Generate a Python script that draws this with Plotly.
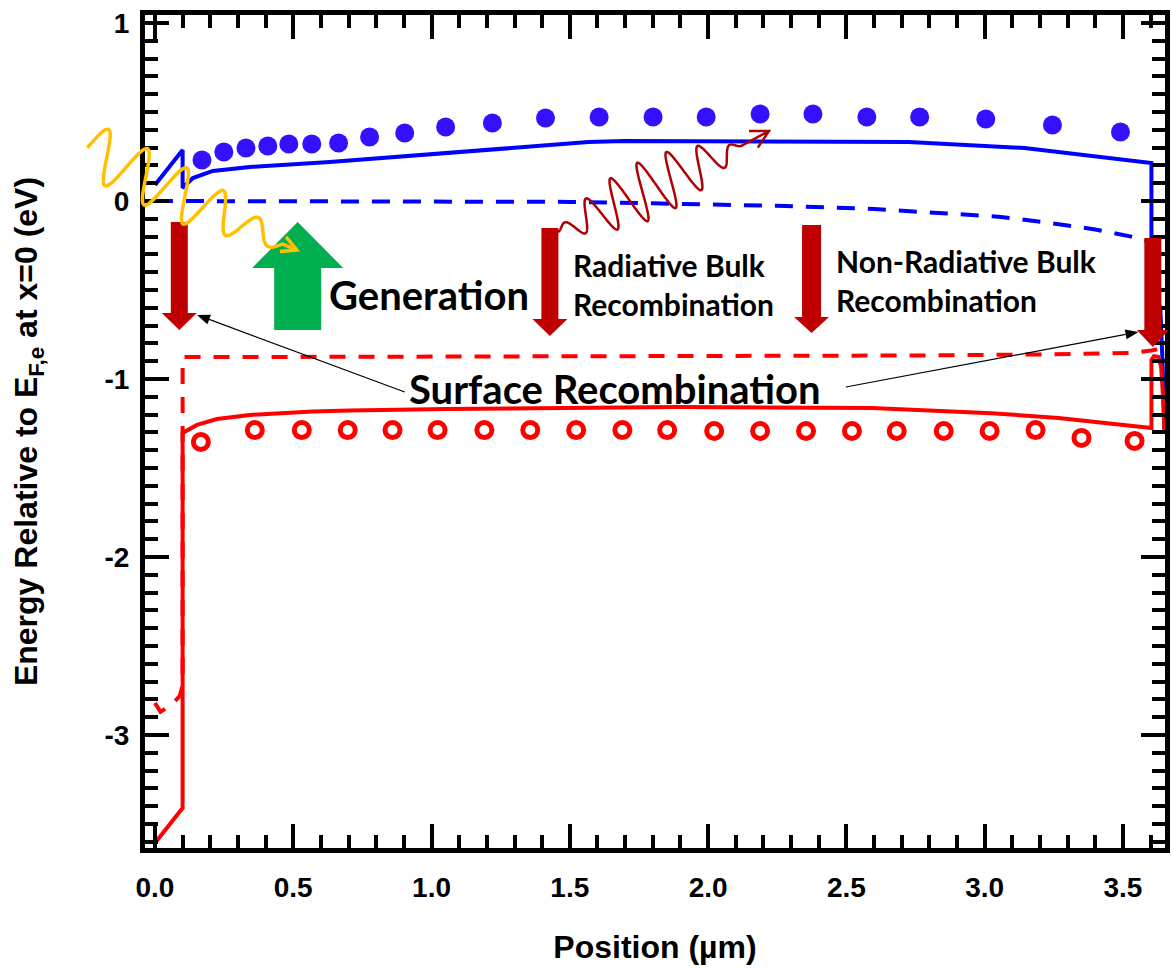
import numpy as np
import plotly.graph_objects as go

# ---------------- band diagram data ----------------
# position in µm, energy in eV relative to E_F,e at x=0

# conduction band edge E_c (solid blue)
ec_pos = [0.0, 0.1, 0.1, 0.137, 0.209, 0.343, 0.632, 1.0, 1.3, 1.567, 1.697,
          2.0, 2.451, 2.726, 3.144, 3.603, 3.603, 3.635, 3.643, 3.65]
ec_energy = [0.09, 0.287, 0.073, 0.129, 0.169, 0.191, 0.219, 0.265, 0.30, 0.331, 0.337,
             0.335, 0.331, 0.331, 0.298, 0.213, -0.45, -0.6, -0.9, -1.3]

# valence band edge E_v (solid red)
ev_pos = [0.0, 0.1, 0.1, 0.152, 0.224, 0.343, 0.57, 0.704, 1.054, 1.534, 1.895,
          2.592, 2.787, 3.025, 3.267, 3.603, 3.603, 3.612, 3.627, 3.638, 3.645, 3.65]
ev_energy = [-3.607, -3.41, -1.303, -1.258, -1.225, -1.202, -1.183, -1.177, -1.169, -1.163, -1.158,
             -1.163, -1.178, -1.192, -1.219, -1.275, -0.893, -0.872, -0.875, -0.93, -1.1, -1.3]

# electron quasi-Fermi level E_F,e (dashed blue)
efn_pos = [0.0, 0.5, 1.0, 1.5, 1.8, 2.0, 2.28, 2.6, 3.05, 3.22, 3.4, 3.53, 3.6]
efn_energy = [0.0, 0.0, 0.0, -0.005, -0.013, -0.018, -0.028, -0.045, -0.088, -0.12, -0.16, -0.2, -0.23]

# hole quasi-Fermi level E_F,h (dashed red)
efp_pos = [0.0, 0.02, 0.06, 0.09, 0.1, 0.1, 0.5, 1.0, 1.5, 2.0, 2.26, 2.74, 3.2, 3.53, 3.603, 3.65]
efp_energy = [-2.82, -2.87, -2.83, -2.78, -2.72, -0.876, -0.876, -0.875, -0.873, -0.872, -0.871,
              -0.868, -0.862, -0.854, -0.84, -0.826]

# reference conduction band points (filled blue dots)
ec_ref_pos = [0.170, 0.249, 0.329, 0.408, 0.484, 0.567, 0.664, 0.776, 0.903, 1.051, 1.220,
              1.412, 1.606, 1.801, 1.993, 2.188, 2.379, 2.574, 2.765, 3.004, 3.245, 3.491]
ec_ref_energy = [0.230, 0.275, 0.298, 0.309, 0.320, 0.320, 0.326, 0.360, 0.382, 0.416, 0.438,
                 0.466, 0.472, 0.472, 0.472, 0.489, 0.489, 0.472, 0.472, 0.461, 0.427, 0.388]

# reference valence band points (open red circles)
ev_ref_pos = [0.166, 0.361, 0.531, 0.697, 0.859, 1.022, 1.191, 1.357, 1.523, 1.690, 1.852,
              2.022, 2.188, 2.354, 2.520, 2.682, 2.852, 3.018, 3.184, 3.350, 3.542]
ev_ref_energy = [-1.354, -1.287, -1.287, -1.287, -1.287, -1.287, -1.287, -1.287, -1.287, -1.287, -1.287,
                 -1.292, -1.292, -1.292, -1.292, -1.292, -1.292, -1.292, -1.287, -1.331, -1.348]

# axis ticks
x_tickvals = [0.0, 0.5, 1.0, 1.5, 2.0, 2.5, 3.0, 3.5]
x_ticktext = ["0.0", "0.5", "1.0", "1.5", "2.0", "2.5", "3.0", "3.5"]
y_tickvals = [1, 0, -1, -2, -3]
y_ticktext = ["1", "0", "-1", "-2", "-3"]

X_RANGE = [-0.036, 3.652]
Y_RANGE = [-3.635, 1.045]

# ---------------- figure geometry ----------------
FIG_W, FIG_H = 1172, 969
M_L, M_R, M_T, M_B = 145, 7, 15, 121
PLOT_W = FIG_W - M_L - M_R
PLOT_H = FIG_H - M_T - M_B

RED = "#FF0000"
BLUE = "#0000FF"
DARK_RED = "#C00000"
GREEN = "#00B050"
GOLD = "#FFC000"


def to_px(x, y):
    px = M_L + (x - X_RANGE[0]) / (X_RANGE[1] - X_RANGE[0]) * PLOT_W
    py = M_T + (Y_RANGE[1] - y) / (Y_RANGE[1] - Y_RANGE[0]) * PLOT_H
    return px, py


def px_path(points, close=False):
    """SVG path in paper coordinates from a list of pixel points."""
    parts = []
    for i, (px, py) in enumerate(points):
        u = (px - M_L) / PLOT_W
        v = (M_T + PLOT_H - py) / PLOT_H
        parts.append(("M" if i == 0 else "L") + f"{u:.5f},{v:.5f}")
    s = " ".join(parts)
    if close:
        s += " Z"
    return s


def block_arrow(x, y_tail, y_base, y_tip, shaft_hw, head_hw, color):
    cx, ty = to_px(x, y_tail)
    _, by = to_px(x, y_base)
    _, tipy = to_px(x, y_tip)
    pts = [(cx - shaft_hw, ty), (cx + shaft_hw, ty), (cx + shaft_hw, by),
           (cx + head_hw, by), (cx, tipy), (cx - head_hw, by), (cx - shaft_hw, by)]
    return dict(type="path", path=px_path(pts, close=True), xref="paper", yref="paper",
                fillcolor=color, line=dict(width=0), layer="above")


def pointer(tail, tip, head_len=13, head_hw=5):
    """Thin black leader line with a filled triangular head."""
    a = np.array(to_px(*tail))
    c = np.array(to_px(*tip))
    e = (c - a) / np.hypot(*(c - a))
    n = np.array([-e[1], e[0]])
    base = c - head_len * e
    head = [tuple(c), tuple(base + head_hw * n), tuple(base - head_hw * n)]
    return [
        dict(type="path", path=px_path([tuple(a), tuple(base)]), xref="paper", yref="paper",
             line=dict(color="black", width=1.2), layer="above"),
        dict(type="path", path=px_path(head, close=True), xref="paper", yref="paper",
             fillcolor="black", line=dict(width=0), layer="above"),
    ]


def photon(p0, p1, tip, amp, periods, envelope, color, width, head=17):
    """Wavy photon line ending in an open arrow head."""
    a = np.array(to_px(*p0))
    b = np.array(to_px(*p1))
    c = np.array(to_px(*tip))
    d = b - a
    u = d / np.hypot(*d)
    nrm = np.array([u[1], -u[0]])
    t = np.linspace(0, 1, 500)
    off = amp * envelope(t) * np.sin(2 * np.pi * periods * t)
    pts = a[None, :] + t[:, None] * d[None, :] + off[:, None] * nrm[None, :]
    pts = [tuple(p) for p in pts] + [tuple(c)]
    # arrow head wings
    e = c - b
    e = e / np.hypot(*e)
    wings = []
    for ang in (np.radians(28), -np.radians(28)):
        rot = np.array([[np.cos(ang), -np.sin(ang)], [np.sin(ang), np.cos(ang)]])
        wings.append(tuple(c - head * rot @ e))
    line = dict(color=color, width=width)
    return [
        dict(type="path", path=px_path(pts), xref="paper", yref="paper",
             line=line, fillcolor="rgba(0,0,0,0)", layer="above"),
        dict(type="path", path=px_path([wings[0], tuple(c), wings[1]]), xref="paper",
             yref="paper", line=line, fillcolor="rgba(0,0,0,0)", layer="above"),
    ]


fig = go.Figure()

fig.add_trace(go.Scatter(x=efn_pos, y=efn_energy, mode="lines",
                         line=dict(color=BLUE, width=4, dash="18px,13px")))
fig.add_trace(go.Scatter(x=efp_pos, y=efp_energy, mode="lines",
                         line=dict(color=RED, width=4, dash="16px,13px")))
fig.add_trace(go.Scatter(x=ec_pos, y=ec_energy, mode="lines",
                         line=dict(color=BLUE, width=4)))
fig.add_trace(go.Scatter(x=ev_pos, y=ev_energy, mode="lines",
                         line=dict(color=RED, width=4)))
fig.add_trace(go.Scatter(x=ec_ref_pos, y=ec_ref_energy, mode="markers",
                         marker=dict(symbol="circle", size=19, color="#3311FF", line=dict(width=0))))
fig.add_trace(go.Scatter(x=ev_ref_pos, y=ev_ref_energy, mode="markers",
                         marker=dict(symbol="circle-open", size=15, color=RED,
                                     line=dict(width=5, color=RED))))

shapes = [
    block_arrow(0.088, -0.118, -0.629, -0.725, 8.5, 17.5, DARK_RED),
    block_arrow(1.428, -0.152, -0.663, -0.758, 8.5, 17.5, DARK_RED),
    block_arrow(2.374, -0.135, -0.652, -0.742, 9.5, 17.5, DARK_RED),
    block_arrow(3.608, -0.208, -0.725, -0.820, 8.5, 16.0, DARK_RED),
    block_arrow(0.516, -0.725, -0.376, -0.118, 23.5, 45.5, GREEN),
]
shapes += photon((-0.245, 0.298), (0.462, -0.242), (0.513, -0.275), 26, 5,
                 lambda t: np.where(t < 0.55, 1.0, 1.0 - 0.75 * (t - 0.55) / 0.45),
                 GOLD, 3.5)
shapes += photon((1.458, -0.174), (2.119, 0.309), (2.220, 0.393), 29, 6.5,
                 lambda t: np.sin(np.pi * t) ** 0.8, "#B00000", 2.5, head=20)
# leaders from the surface recombination label to both surface arrows
shapes += pointer((0.903, -1.073), (0.152, -0.64))
shapes += pointer((2.498, -1.045), (3.556, -0.736))

label_font = dict(family="Lato, Open Sans, sans-serif", color="black", weight="bold")

annotations = [
    dict(x=0.621, y=-0.528, xref="x", yref="y", text="Generation", showarrow=False,
         xanchor="left", yanchor="middle", font=dict(size=40, **label_font)),
    dict(x=1.505, y=-0.469, xref="x", yref="y", text="Radiative Bulk<br>Recombination",
         showarrow=False, xanchor="left", yanchor="middle", align="left",
         font=dict(size=30, **label_font)),
    dict(x=2.455, y=-0.449, xref="x", yref="y", text="Non-Radiative Bulk<br>Recombination",
         showarrow=False, xanchor="left", yanchor="middle", align="left",
         font=dict(size=30, **label_font)),
    dict(x=1.665, y=-1.056, xref="x", yref="y", text="Surface Recombination",
         showarrow=False, xanchor="center", yanchor="middle",
         font=dict(size=40, **label_font)),
]

tick_font = dict(family="Arial, Liberation Sans, sans-serif", size=28, color="black", weight="bold")
title_font = dict(family="Arial, Liberation Sans, sans-serif", size=32, color="black", weight="bold")
common_axis = dict(
    showgrid=False, zeroline=False, showline=True, linewidth=5, linecolor="black",
    mirror="allticks", ticks="inside", ticklen=24, tickwidth=4, tickcolor="black",
    tickmode="array", tickfont=tick_font, automargin=False,
)

fig.update_layout(
    width=FIG_W, height=FIG_H,
    margin=dict(l=M_L, r=M_R, t=M_T, b=M_B, autoexpand=False),
    paper_bgcolor="white", plot_bgcolor="white",
    showlegend=False,
    shapes=shapes, annotations=annotations,
    xaxis=dict(
        range=X_RANGE, tickvals=x_tickvals, ticktext=x_ticktext,
        minor=dict(tickmode="linear", tick0=0, dtick=0.1, ticks="inside",
                   ticklen=13, tickwidth=4, tickcolor="black"),
        ticklabelstandoff=10,
        title=dict(text="Position (µm)", font=title_font, standoff=36),
        **common_axis,
    ),
    yaxis=dict(
        range=Y_RANGE, tickvals=y_tickvals, ticktext=y_ticktext,
        minor=dict(tickmode="linear", tick0=0, dtick=0.1, ticks="inside",
                   ticklen=13, tickwidth=4, tickcolor="black"),
        ticklabelstandoff=5,
        title=dict(text="Energy Relative to E<sub>F,e</sub> at x=0 (eV)", font=title_font,
                   standoff=59),
        **common_axis,
    ),
)

fig.write_html("out.html", config={"displayModeBar": False})
